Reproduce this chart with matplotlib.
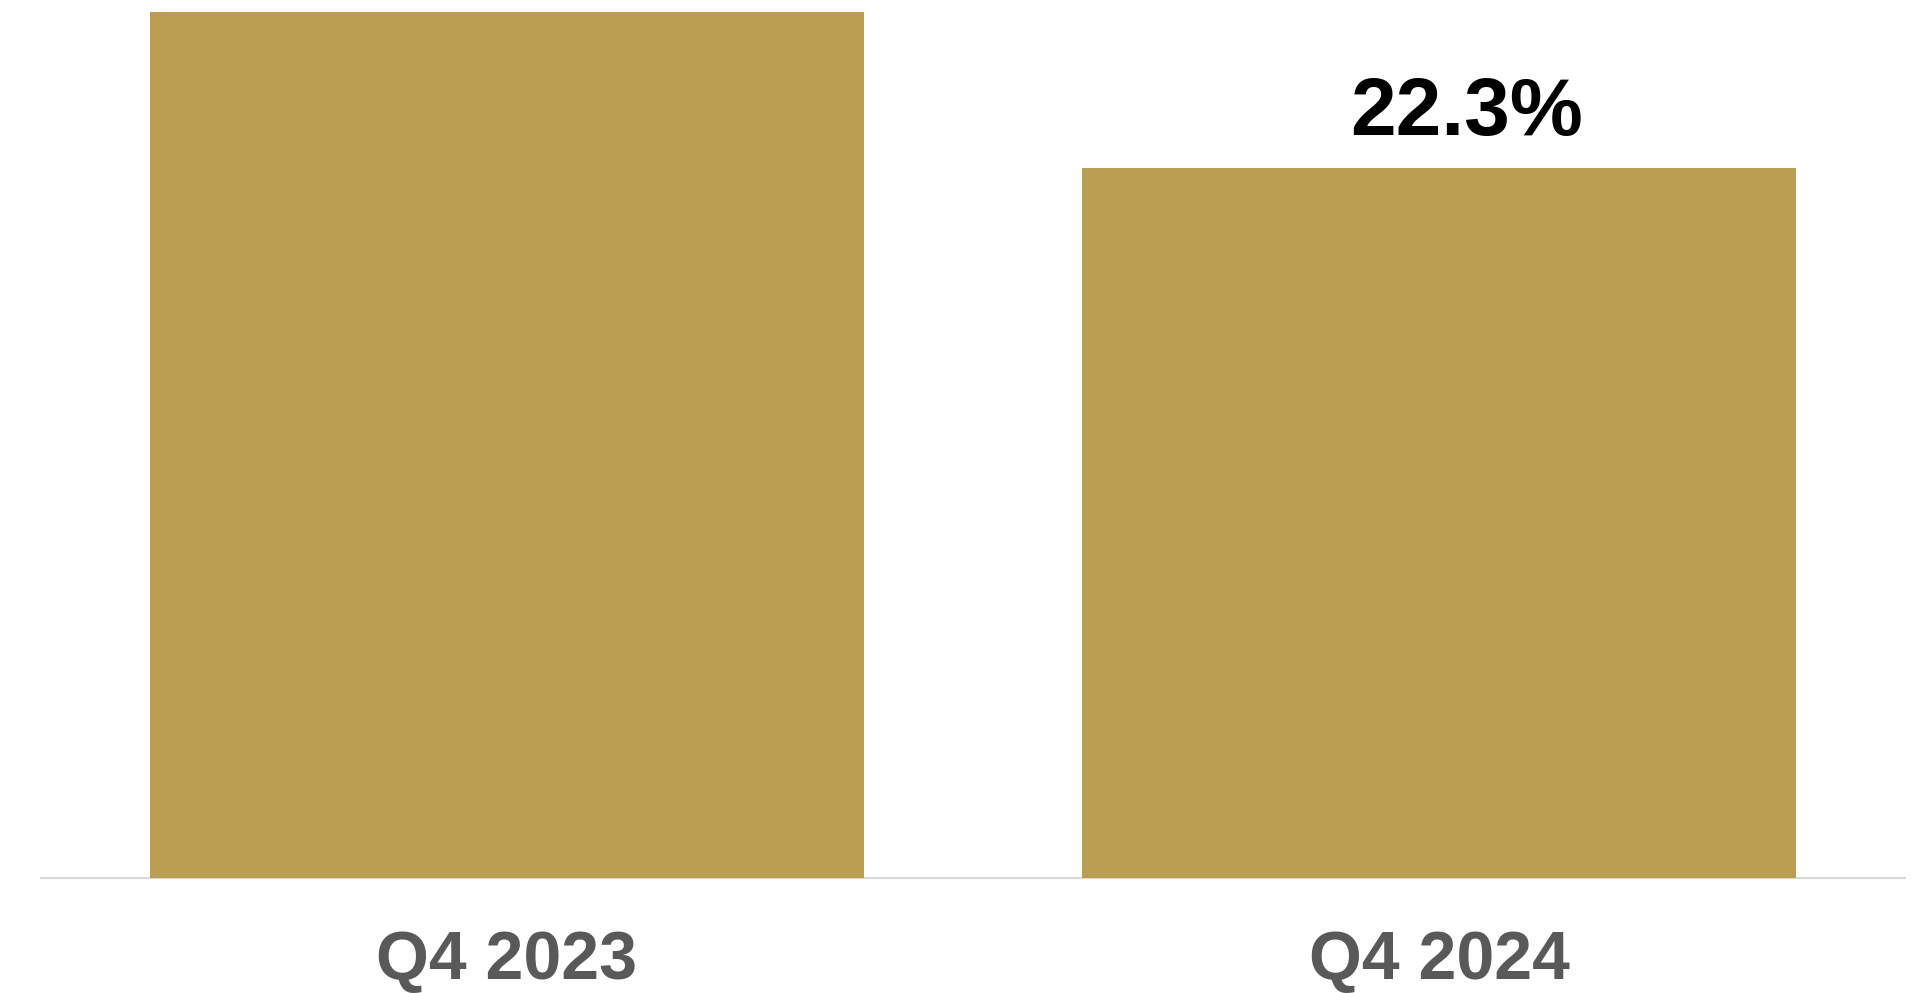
import matplotlib.pyplot as plt

# data
categories = ["Q4 2023", "Q4 2024"]
values = [27.2, 22.3]
labels = ["", "22.3%"]

gold = "#BC9E53"
tick_grey = "#595959"
line_grey = "#D9D9D9"

plt.rcParams["font.family"] = ["Liberation Sans", "DejaVu Sans"]

fig = plt.figure(figsize=(19.33, 9.93), dpi=100)
ax = fig.add_axes([41 / 1933, 1 - 878 / 993, 1864 / 1933, (878 - 12) / 993])

x = range(len(categories))
bars = ax.bar(x, values, width=0.767, color=gold, zorder=2)

# value labels above the bars
for b, lab in zip(bars, labels):
    if lab:
        ax.annotate(lab, (b.get_x() + b.get_width() / 2, b.get_height()),
                    xytext=(20, 24), textcoords="offset points",
                    ha="center", va="baseline", fontsize=59,
                    fontweight="bold", color="black")

ax.set_xlim(-0.5, 1.5)
ax.set_ylim(0, values[0])
ax.set_xticks(list(x))
ax.set_xticklabels(categories, fontsize=49, fontweight="bold", color=tick_grey)
ax.tick_params(axis="x", length=0, pad=37)
ax.set_yticks([])

for s in ["top", "right", "left"]:
    ax.spines[s].set_visible(False)
ax.spines["bottom"].set_color(line_grey)
ax.spines["bottom"].set_linewidth(1.5)
ax.spines["bottom"].set_zorder(1)

fig.savefig("out.png", dpi=100)
